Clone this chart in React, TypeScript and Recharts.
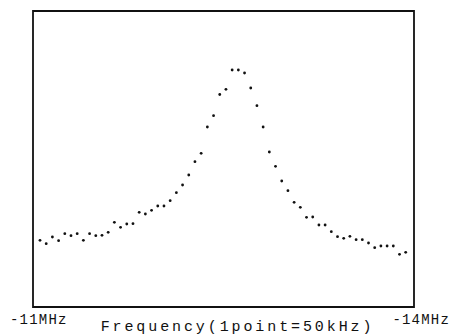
import { ScatterChart, Scatter, XAxis, YAxis, ReferenceArea } from "recharts";

// one point every 50kHz, sweeping -11MHz -> -14MHz
const POINT_INDEX = Array.from({ length: 60 }, (_, i) => i + 1);

// signal level, arbitrary units
const LEVELS = [
  66.7, 63.3, 70, 66.3, 73.3, 71.3, 73.3, 66.7, 73.3, 71.3,
  71.7, 74.7, 84.7, 79.7, 83, 83.3, 94.7, 93, 96.7, 101,
  101, 106.3, 114.3, 122, 132, 145.3, 153.7, 180, 191.3, 212.5,
  217.7, 237, 237, 234, 219, 201.3, 180, 155, 140.7, 126,
  116.3, 104.7, 99.7, 89.7, 90, 82, 82, 75.3, 70.3, 68.7,
  70.7, 67.3, 67.3, 64, 59.3, 61, 61, 61, 52.7, 54.7,
];

const X_TICK_LABELS = ["-11MHz", "-14MHz"];
const X_LABEL = "Frequency(1point=50kHz)";

const X_MIN = -0.13;
const X_MAX = 61.34;
const Y_MIN = 0;
const Y_MAX = 296;

const data = POINT_INDEX.map((idx, i) => ({ idx, level: LEVELS[i] }));

const INK = "#111";
const MONO = "'Liberation Mono', 'DejaVu Sans Mono', monospace";

// eslint-disable-next-line @typescript-eslint/no-explicit-any
function EdgeTick(props: any) {
  const { x, y, index } = props;
  const first = index === 0;
  return (
    <text
      x={first ? x - 23 : x + 36}
      y={y + 17}
      textAnchor={first ? "start" : "end"}
      fontFamily={MONO}
      fontSize={14}
      letterSpacing={1.2}
      fill={INK}
    >
      {X_TICK_LABELS[index]}
    </text>
  );
}

// eslint-disable-next-line @typescript-eslint/no-explicit-any
function AxisTitle(props: any) {
  const vb = props.viewBox;
  return (
    <text
      x={vb.x + vb.width / 2 + 14}
      y={vb.y + 24}
      textAnchor="middle"
      fontFamily={MONO}
      fontSize={15}
      letterSpacing={2.9}
      fill={INK}
    >
      {X_LABEL}
    </text>
  );
}

// eslint-disable-next-line @typescript-eslint/no-explicit-any
function Dot(props: any) {
  return <circle cx={props.cx} cy={props.cy} r={1.4} fill={INK} />;
}

export default function App() {
  return (
    <div style={{ position: "absolute", left: 0, top: 0, background: "#fff" }}>
      <ScatterChart
        width={452}
        height={335}
        margin={{ top: 11, right: 38, bottom: 0, left: 33 }}
      >
        <XAxis
          type="number"
          dataKey="idx"
          domain={[X_MIN, X_MAX]}
          ticks={[X_MIN, X_MAX]}
          allowDataOverflow
          height={28}
          axisLine={false}
          tickLine={false}
          tickSize={0}
          tickMargin={0}
          tick={<EdgeTick />}
          label={<AxisTitle />}
        />
        <YAxis type="number" dataKey="level" domain={[Y_MIN, Y_MAX]} hide />
        <ReferenceArea
          x1={X_MIN}
          x2={X_MAX}
          y1={Y_MIN}
          y2={Y_MAX}
          fill="none"
          fillOpacity={0}
          stroke={INK}
          strokeWidth={1.8}
          ifOverflow="visible"
        />
        <Scatter data={data} shape={<Dot />} isAnimationActive={false} />
      </ScatterChart>
    </div>
  );
}
